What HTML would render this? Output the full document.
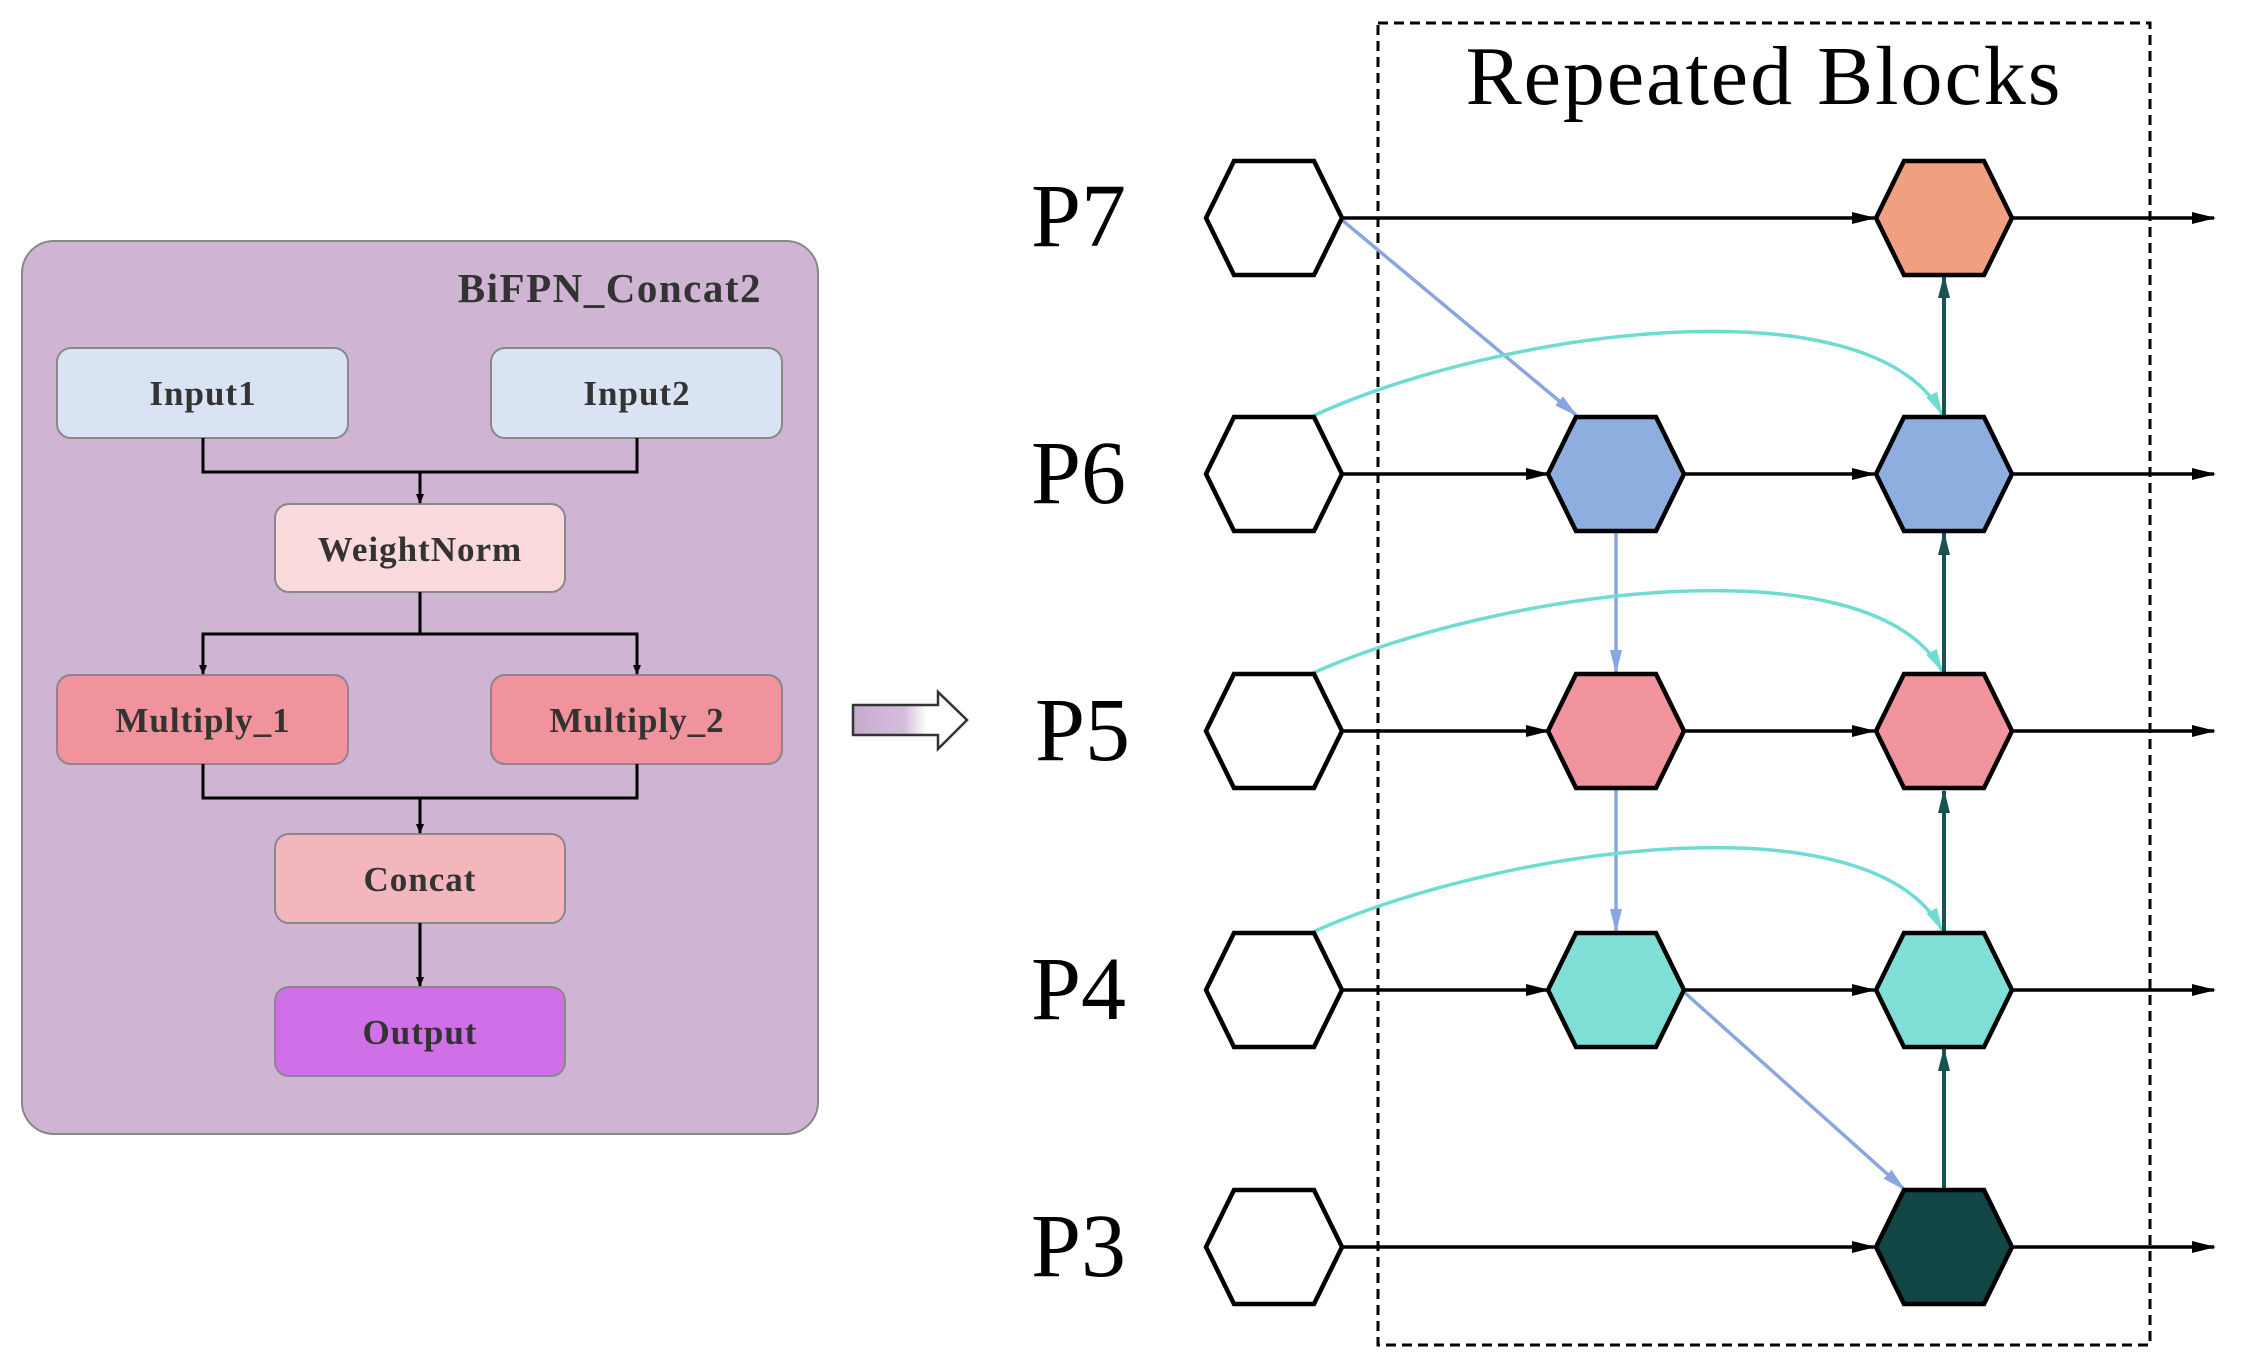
<!DOCTYPE html>
<html><head><meta charset="utf-8"><style>
html,body{margin:0;padding:0;background:#fff;}
svg{display:block;}
text{font-family:"Liberation Serif",serif;}
</style></head><body>
<svg width="2243" height="1363" viewBox="0 0 2243 1363" xmlns="http://www.w3.org/2000/svg">
<defs>
<marker id="ak" markerWidth="10" markerHeight="10" refX="9" refY="5" orient="auto" markerUnits="userSpaceOnUse"><path d="M0,1 L10,5 L0,9 Z" fill="#000"/></marker>
<marker id="akb" markerWidth="24" markerHeight="14" refX="22" refY="7" orient="auto" markerUnits="userSpaceOnUse"><path d="M0,1 L24,7 L0,13 Z" fill="#000"/></marker>
<marker id="alb" markerWidth="24" markerHeight="14" refX="22" refY="7" orient="auto" markerUnits="userSpaceOnUse"><path d="M0,1 L24,7 L0,13 Z" fill="#8aa6e0"/></marker>
<marker id="acy" markerWidth="24" markerHeight="14" refX="22" refY="7" orient="auto" markerUnits="userSpaceOnUse"><path d="M0,1 L24,7 L0,13 Z" fill="#6edcd2"/></marker>
<marker id="adk" markerWidth="24" markerHeight="14" refX="22" refY="7" orient="auto" markerUnits="userSpaceOnUse"><path d="M0,1 L24,7 L0,13 Z" fill="#175350"/></marker>
<linearGradient id="g" x1="0" x2="1" y1="0" y2="0"><stop offset="0" stop-color="#c8a8d0"/><stop offset="0.45" stop-color="#d4bedc"/><stop offset="0.65" stop-color="#fff"/><stop offset="1" stop-color="#fff"/></linearGradient>
<polygon id="hx" points="-68,0 -40,-57 40,-57 68,0 40,57 -40,57" />
</defs>

<rect x="22" y="241" width="796" height="893" rx="32" fill="#d0b4d4" stroke="#888" stroke-width="2"/>
<text x="762" y="302" text-anchor="end" font-size="41" font-weight="bold" fill="#333" letter-spacing="1.5">BiFPN_Concat2</text>
<g stroke="#888" stroke-width="2">
<rect x="57" y="348" width="291" height="90" rx="14" fill="#dae3f3"/>
<rect x="491" y="348" width="291" height="90" rx="14" fill="#dae3f3"/>
<rect x="275" y="504" width="290" height="88" rx="14" fill="#fadadd"/>
<rect x="57" y="675" width="291" height="89" rx="14" fill="#f0939c"/>
<rect x="491" y="675" width="291" height="89" rx="14" fill="#f0939c"/>
<rect x="275" y="834" width="290" height="89" rx="14" fill="#f4b6bd"/>
<rect x="275" y="987" width="290" height="89" rx="14" fill="#d070e8"/>
</g>
<g font-size="35" font-weight="bold" fill="#333" text-anchor="middle" letter-spacing="1">
<text x="203" y="405">Input1</text>
<text x="637" y="405">Input2</text>
<text x="420" y="561">WeightNorm</text>
<text x="203" y="732">Multiply_1</text>
<text x="637" y="732">Multiply_2</text>
<text x="420" y="891">Concat</text>
<text x="420" y="1044">Output</text>
</g>
<g stroke="#000" stroke-width="3" fill="none">
<path d="M203,438 V472 H637 V438"/>
<path d="M420,472 V503" marker-end="url(#ak)"/>
<path d="M420,592 V634 H203 V674" marker-end="url(#ak)"/>
<path d="M420,634 H637 V674" marker-end="url(#ak)"/>
<path d="M203,764 V798 H637 V764"/>
<path d="M420,798 V833" marker-end="url(#ak)"/>
<path d="M420,923 V986" marker-end="url(#ak)"/>
</g>

<path d="M853,705 H938 V692 L967,720 L938,749 V735 H853 Z" fill="url(#g)" stroke="#333" stroke-width="2.5"/>

<rect x="1378" y="23" width="772" height="1322" fill="none" stroke="#000" stroke-width="3" stroke-dasharray="10,6"/>
<text x="1764" y="104" text-anchor="middle" font-size="84" fill="#000" letter-spacing="2">Repeated Blocks</text>
<g font-size="90" fill="#000">
<text x="1031" y="246">P7</text>
<text x="1031" y="503">P6</text>
<text x="1035" y="760">P5</text>
<text x="1031" y="1019">P4</text>
<text x="1031" y="1276">P3</text>
</g>

<g stroke="#000" stroke-width="3.5" fill="none">
<path d="M1342,218 H1874" marker-end="url(#akb)"/>
<path d="M2012,218 H2214" marker-end="url(#akb)"/>
<path d="M1342,474 H1548" marker-end="url(#akb)"/>
<path d="M1684,474 H1874" marker-end="url(#akb)"/>
<path d="M2012,474 H2214" marker-end="url(#akb)"/>
<path d="M1342,731 H1548" marker-end="url(#akb)"/>
<path d="M1684,731 H1874" marker-end="url(#akb)"/>
<path d="M2012,731 H2214" marker-end="url(#akb)"/>
<path d="M1342,990 H1548" marker-end="url(#akb)"/>
<path d="M1684,990 H1874" marker-end="url(#akb)"/>
<path d="M2012,990 H2214" marker-end="url(#akb)"/>
<path d="M1342,1247 H1874" marker-end="url(#akb)"/>
<path d="M2012,1247 H2214" marker-end="url(#akb)"/>
</g>

<g stroke="#8aa6e0" stroke-width="3.5" fill="none">
<path d="M1342,220 L1576,415" marker-end="url(#alb)"/>
<path d="M1616,532 V672" marker-end="url(#alb)"/>
<path d="M1616,789 V931" marker-end="url(#alb)"/>
<path d="M1684,992 L1904,1189" marker-end="url(#alb)"/>
</g>
<g stroke="#6edcd2" stroke-width="3.5" fill="none">
<path d="M1313,416 C1500,330 1870,280 1942,414" marker-end="url(#acy)"/>
<path d="M1313,673 C1500,590 1870,540 1942,671" marker-end="url(#acy)"/>
<path d="M1313,932 C1500,848 1870,795 1942,930" marker-end="url(#acy)"/>
</g>
<g stroke="#175350" stroke-width="4" fill="none">
<path d="M1944,1190 V1049" marker-end="url(#adk)"/>
<path d="M1944,933 V791" marker-end="url(#adk)"/>
<path d="M1944,674 V533" marker-end="url(#adk)"/>
<path d="M1944,416 V276" marker-end="url(#adk)"/>
</g>

<g stroke="#000" stroke-width="4.5">
<use href="#hx" x="1274" y="218" fill="#fff"/>
<use href="#hx" x="1274" y="474" fill="#fff"/>
<use href="#hx" x="1274" y="731" fill="#fff"/>
<use href="#hx" x="1274" y="990" fill="#fff"/>
<use href="#hx" x="1274" y="1247" fill="#fff"/>
<use href="#hx" x="1616" y="474" fill="#8eaee0"/>
<use href="#hx" x="1616" y="731" fill="#f0939c"/>
<use href="#hx" x="1616" y="990" fill="#7fded6"/>
<use href="#hx" x="1944" y="218" fill="#f0a080"/>
<use href="#hx" x="1944" y="474" fill="#8eaee0"/>
<use href="#hx" x="1944" y="731" fill="#f0939c"/>
<use href="#hx" x="1944" y="990" fill="#7fded6"/>
<use href="#hx" x="1944" y="1247" fill="#124546"/>
</g>
</svg>
</body></html>
